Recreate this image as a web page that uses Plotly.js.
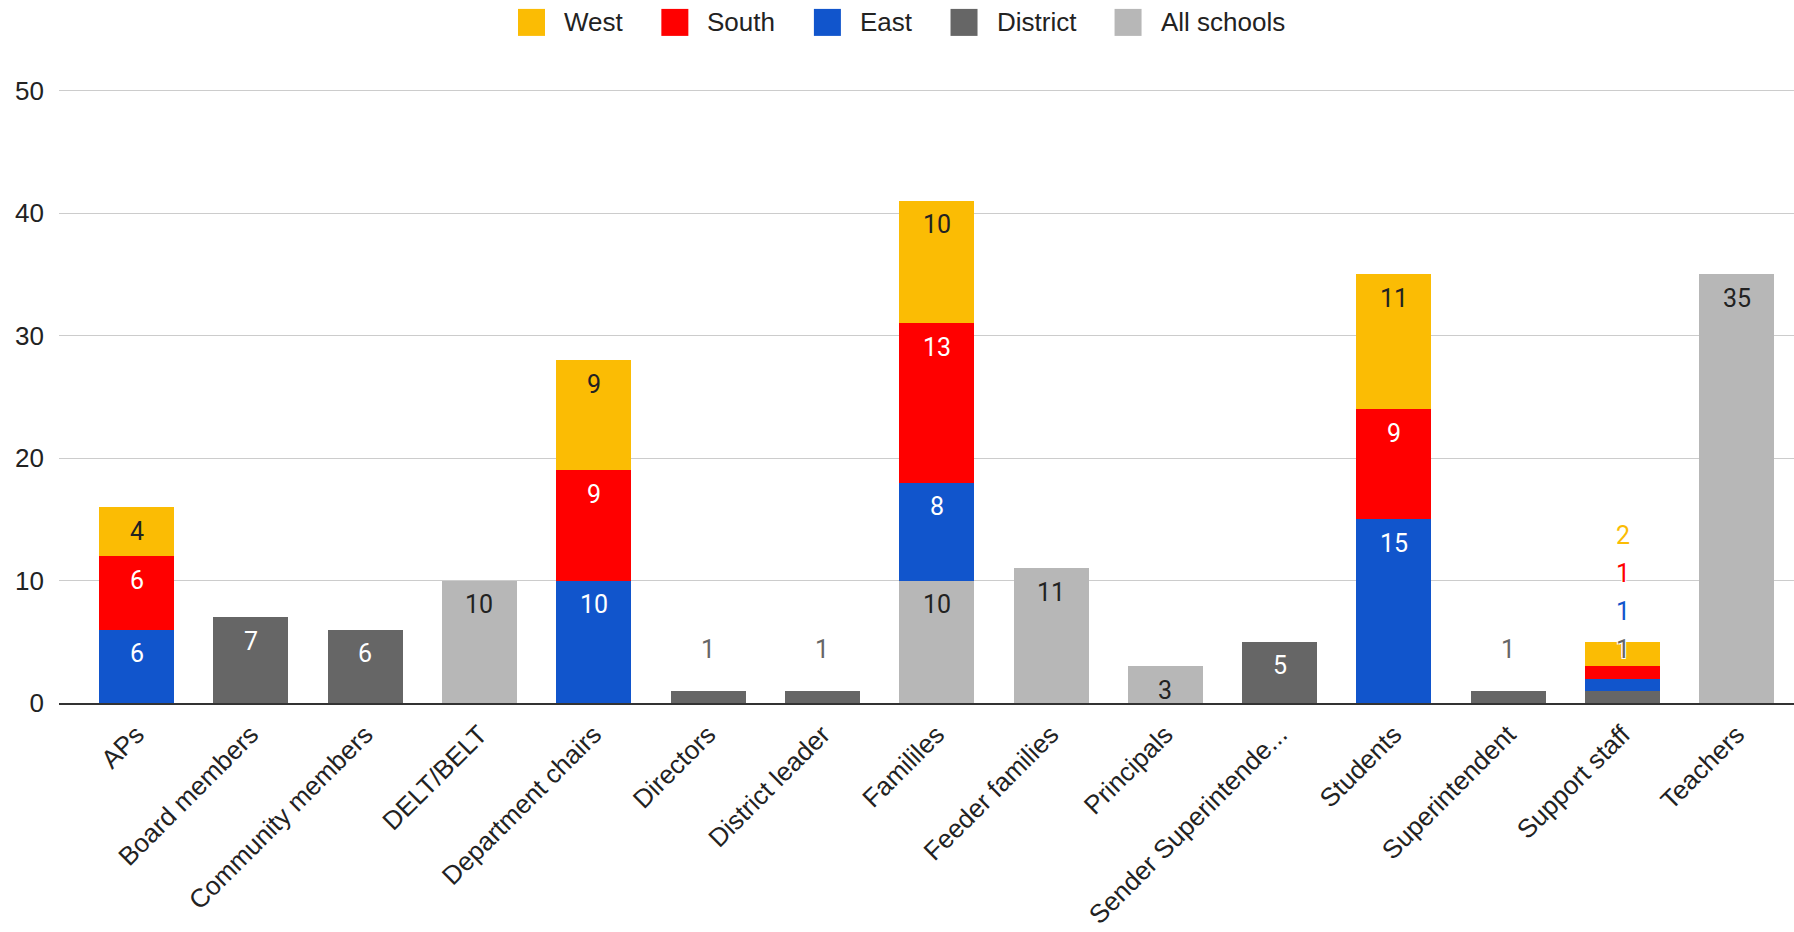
<!DOCTYPE html>
<html>
<head>
<meta charset="utf-8">
<script src="https://cdn.plot.ly/plotly-3.0.1.min.js"></script>
<style>
  html, body { margin: 0; padding: 0; background: #fff; }
  #chart { width: 1794px; height: 932px; }
</style>
</head>
<body>
<div id="chart"></div>
<script>
// Stakeholder groups along the x axis
const categories = [
  'APs', 'Board members', 'Community members', 'DELT/BELT', 'Department chairs',
  'Directors', 'District leader', 'Famililes', 'Feeder families', 'Principals',
  'Sender Superintende...', 'Students', 'Superintendent', 'Support staff', 'Teachers'
];

// Counts per group for each series (null = no bar)
const westCounts       = [4, null, null, null, 9, null, null, 10, null, null, null, 11, null, 2, null];
const southCounts      = [6, null, null, null, 9, null, null, 13, null, null, null, 9, null, 1, null];
const eastCounts       = [6, null, null, null, 10, null, null, 8, null, null, null, 15, null, 1, null];
const districtCounts   = [null, 7, 6, null, null, 1, 1, null, null, null, 5, null, 1, 1, null];
const allSchoolsCounts = [null, null, null, 10, null, null, null, 10, 11, 3, null, null, null, null, 35];

const yTicks = [0, 10, 20, 30, 40, 50];

// Stacking order, bottom first
const series = [
  { name: 'All schools', values: allSchoolsCounts, color: '#b7b7b7', labelColor: '#222222' },
  { name: 'District',    values: districtCounts,   color: '#666666', labelColor: '#ffffff' },
  { name: 'East',        values: eastCounts,       color: '#1155cc', labelColor: '#ffffff' },
  { name: 'South',       values: southCounts,      color: '#ff0000', labelColor: '#ffffff' },
  { name: 'West',        values: westCounts,       color: '#fbbc04', labelColor: '#222222' }
];

const W = 1794, H = 932;
const margin = { l: 59, r: 0, t: 88, b: 229, pad: 0 };
const yMax = 50;
const pxPerUnit = 12.25;
// a little headroom so the top gridline is drawn inside the plot area
const yTop = yMax + (H - margin.t - margin.b - yMax * pxPerUnit) / pxPerUnit;

const axisFont = { family: '"Liberation Sans", Arial, sans-serif', size: 26, color: '#222222' };
const labelFontFamily = 'Roboto, "Liberation Sans", Arial, sans-serif';
const labelSize = 25;

const traces = series.map(s => ({
  type: 'bar',
  name: s.name,
  x: categories,
  y: s.values,
  marker: { color: s.color, line: { width: 0 } },
  hoverinfo: 'skip',
  showlegend: false
}));

// Value labels: inside near the segment top when the segment is tall enough,
// otherwise stacked above the bar in the series colour.
const annotations = [];
const halo = '1px 1px 0 #fff, -1px -1px 0 #fff, 1px -1px 0 #fff, -1px 1px 0 #fff';
categories.forEach((cat, i) => {
  let base = 0;
  const outside = [];
  series.forEach(s => {
    const v = s.values[i];
    if (!v) return;
    const top = base + v;
    if (v * pxPerUnit >= 30) {
      annotations.push({
        x: cat, y: top, xref: 'x', yref: 'y', yshift: -24,
        text: String(v), showarrow: false, yanchor: 'middle', xanchor: 'center',
        font: { family: labelFontFamily, size: labelSize, color: s.labelColor }
      });
    } else {
      outside.push({ s, v, top });
    }
    base = top;
  });
  outside.forEach((o, k) => {
    annotations.push({
      x: cat, y: outside[0].top, xref: 'x', yref: 'y', yshift: 41 + 38 * k,
      text: String(o.v), showarrow: false, yanchor: 'middle', xanchor: 'center',
      font: { family: labelFontFamily, size: labelSize, color: o.s.color, shadow: halo }
    });
  });
});

// Legend across the top: square swatch followed by the series name
const shapes = [];
const legendOrder = series.slice().reverse();
const ctx = document.createElement('canvas').getContext('2d');
ctx.font = '26px "Liberation Sans"';
const swatch = 27, swatchGap = 19, entryGap = 38.6;
const legendCenterY = 22.4;
let lx = 518;
legendOrder.forEach(s => {
  const yOff = margin.t - legendCenterY;
  shapes.push({
    type: 'rect', xref: 'paper', yref: 'paper',
    xsizemode: 'pixel', ysizemode: 'pixel', xanchor: 0, yanchor: 1,
    x0: lx - margin.l, x1: lx - margin.l + swatch,
    y0: yOff - swatch / 2, y1: yOff + swatch / 2,
    fillcolor: s.color, line: { width: 0 }
  });
  const tx = lx + swatch + swatchGap;
  annotations.push({
    x: 0, y: 1, xref: 'paper', yref: 'paper', xshift: tx - margin.l - 2, yshift: yOff,
    xanchor: 'left', yanchor: 'middle', showarrow: false, text: s.name,
    font: axisFont
  });
  lx = tx + ctx.measureText(s.name).width + entryGap;
});

const layout = {
  width: W, height: H,
  margin: margin,
  paper_bgcolor: '#ffffff', plot_bgcolor: '#ffffff',
  barmode: 'stack', bargap: 0.344,
  showlegend: false,
  font: axisFont,
  xaxis: {
    type: 'category',
    range: [-0.6785, 14.5],
    tickangle: -45,
    tickfont: axisFont,
    showgrid: false, zeroline: false,
    showline: true, linecolor: '#333333', linewidth: 2,
    ticks: '', ticklabelstandoff: 4, fixedrange: true
  },
  yaxis: {
    range: [0, yTop],
    tickvals: yTicks,
    tickfont: axisFont,
    showgrid: true, gridcolor: '#cccccc', gridwidth: 1,
    zeroline: false, showline: false, ticks: '',
    ticklabelstandoff: 14, fixedrange: true
  },
  annotations: annotations,
  shapes: shapes
};

Plotly.newPlot('chart', traces, layout, { displayModeBar: false, staticPlot: true });
</script>
</body>
</html>
